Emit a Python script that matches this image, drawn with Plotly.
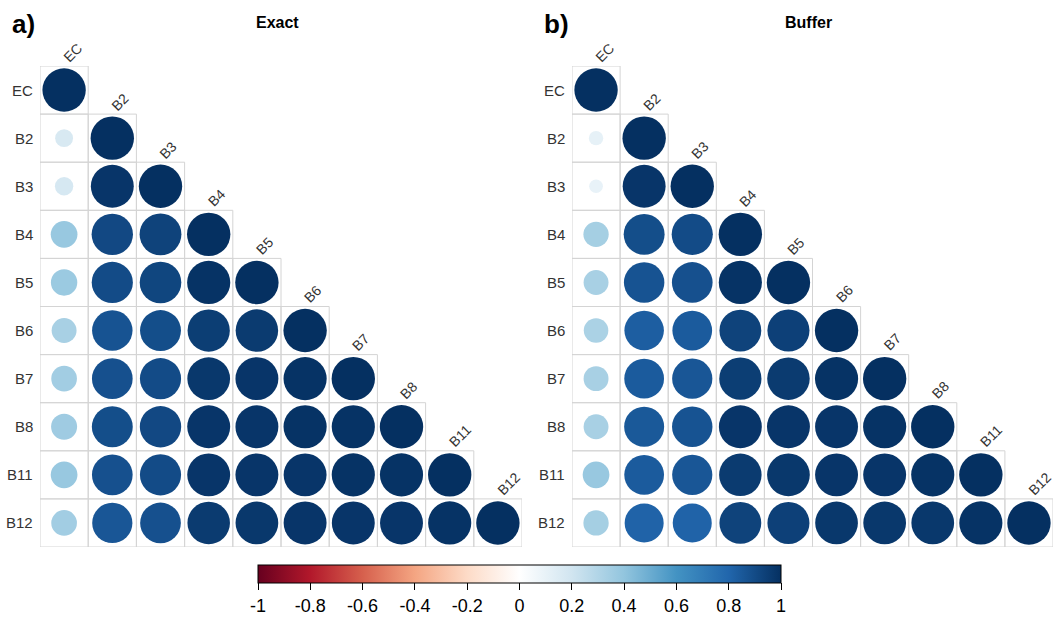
import plotly.graph_objects as go

# Variables, in matrix order
variables = ["EC", "B2", "B3", "B4", "B5", "B6", "B7", "B8", "B11", "B12"]

# Lower-triangle correlation rows (row i holds columns 0..i)
exact_rows = [
    [1.00],
    [0.17, 1.00],
    [0.18, 0.98, 1.00],
    [0.38, 0.91, 0.93, 1.00],
    [0.37, 0.90, 0.92, 0.99, 1.00],
    [0.33, 0.87, 0.89, 0.95, 0.96, 1.00],
    [0.35, 0.88, 0.90, 0.97, 0.98, 0.99, 1.00],
    [0.36, 0.89, 0.91, 0.98, 0.98, 0.99, 0.99, 1.00],
    [0.38, 0.88, 0.90, 0.98, 0.98, 0.98, 0.99, 0.99, 1.00],
    [0.35, 0.86, 0.88, 0.96, 0.97, 0.98, 0.98, 0.98, 0.99, 1.00],
]

buffer_rows = [
    [1.00],
    [0.11, 1.00],
    [0.10, 0.98, 1.00],
    [0.34, 0.89, 0.90, 1.00],
    [0.33, 0.87, 0.88, 0.99, 1.00],
    [0.32, 0.83, 0.84, 0.93, 0.94, 1.00],
    [0.33, 0.84, 0.86, 0.95, 0.96, 0.99, 1.00],
    [0.33, 0.85, 0.87, 0.98, 0.98, 0.98, 0.99, 1.00],
    [0.38, 0.84, 0.86, 0.96, 0.97, 0.98, 0.98, 0.99, 1.00],
    [0.34, 0.81, 0.81, 0.93, 0.94, 0.97, 0.97, 0.97, 0.99, 1.00],
]

panel_titles = ["Exact", "Buffer"]
panel_tags = ["a)", "b)"]

colorbar_ticks = [-1, -0.8, -0.6, -0.4, -0.2, 0, 0.2, 0.4, 0.6, 0.8, 1]
colorbar_ticktext = ["-1", "-0.8", "-0.6", "-0.4", "-0.2", "0", "0.2", "0.4", "0.6", "0.8", "1"]

# Diverging red-blue palette
rdbu = ["#67001F", "#B2182B", "#D6604D", "#F4A582", "#FDDBC7", "#FFFFFF",
        "#D1E5F0", "#92C5DE", "#4393C3", "#2166AC", "#053061"]
colorscale = [[k / (len(rdbu) - 1), c] for k, c in enumerate(rdbu)]

W, H = 1054, 625
n = len(variables)
x_domains = [(40 / W, 522 / W), (572 / W, 1053 / W)]
y_domain = (1 - 547 / H, 1 - 66 / H)
cell_px = (522 - 40) / n
grid_col = "#d4d4d4"
font_family = "Liberation Sans, Arial, sans-serif"

fig = go.Figure()
shapes = []
annotations = []

for p, rows in enumerate([exact_rows, buffer_rows]):
    xa = "x" if p == 0 else "x2"
    ya = "y" if p == 0 else "y2"
    xs, ys, vals, sizes = [], [], [], []
    for i, row in enumerate(rows):
        for j, v in enumerate(row):
            xs.append(j)
            ys.append(i)
            vals.append(v)
            sizes.append(0.9 * abs(v) ** 0.5 * cell_px)
            shapes.append(dict(type="rect", xref=xa, yref=ya,
                               x0=j - 0.5, x1=j + 0.5, y0=i - 0.5, y1=i + 0.5,
                               line=dict(color=grid_col, width=1), layer="below"))
    fig.add_trace(go.Scatter(
        x=xs, y=ys, xaxis=xa, yaxis=ya, mode="markers",
        marker=dict(color=vals, size=sizes, colorscale=colorscale, cmin=-1, cmax=1,
                    line=dict(width=0), opacity=1,
                    showscale=(p == 0),
                    colorbar=dict(orientation="h", x=519.5 / W, xanchor="center",
                                  y=1 - 565 / H, yanchor="top", len=523 / W,
                                  lenmode="fraction", thickness=18,
                                  xpad=0, ypad=0,
                                  outlinecolor="black", outlinewidth=1,
                                  tickvals=colorbar_ticks, ticktext=colorbar_ticktext,
                                  ticks="outside", ticklen=7, tickcolor="black",
                                  tickfont=dict(size=18, color="black", family=font_family))),
        hovertemplate="%{marker.color:.2f}<extra></extra>", showlegend=False))

    # Row labels on the left
    for i, name in enumerate(variables):
        annotations.append(dict(xref=xa, yref=ya, x=-0.5, y=i, text=name,
                                showarrow=False, xanchor="right", yanchor="middle",
                                xshift=-5, font=dict(size=15, color="#333333", family=font_family)))
    # Column labels, rotated, above each diagonal cell
    for j, name in enumerate(variables):
        annotations.append(dict(xref=xa, yref=ya, x=j, y=j - 0.5, text=name,
                                showarrow=False, xanchor="left", yanchor="bottom",
                                textangle=-45, xshift=-7, yshift=-2,
                                font=dict(size=14, color="#333333", family=font_family)))
    # Panel title and tag
    annotations.append(dict(xref="paper", yref="paper",
                            x=(x_domains[p][0] + x_domains[p][1]) / 2 - 4 / W, y=1 - 22 / H,
                            text="<b>" + panel_titles[p] + "</b>", showarrow=False,
                            xanchor="center", yanchor="middle",
                            font=dict(size=16, color="black", family=font_family)))
    annotations.append(dict(xref="paper", yref="paper",
                            x=x_domains[p][0] - 30 / W, y=1 - 24 / H,
                            text="<b>" + panel_tags[p] + "</b>", showarrow=False,
                            xanchor="left", yanchor="middle",
                            font=dict(size=26, color="black", family=font_family)))

axis_common = dict(showgrid=False, zeroline=False, showticklabels=False, ticks="",
                   showline=False, fixedrange=True)
fig.update_layout(
    width=W, height=H,
    margin=dict(l=0, r=0, t=0, b=0),
    paper_bgcolor="white", plot_bgcolor="white",
    xaxis=dict(domain=list(x_domains[0]), range=[-0.5, n - 0.5], **axis_common),
    yaxis=dict(domain=list(y_domain), range=[n - 0.5, -0.5], **axis_common),
    xaxis2=dict(domain=list(x_domains[1]), range=[-0.5, n - 0.5], **axis_common),
    yaxis2=dict(domain=list(y_domain), range=[n - 0.5, -0.5], anchor="x2", **axis_common),
    shapes=shapes,
    annotations=annotations,
)

fig.write_html("out.html")
